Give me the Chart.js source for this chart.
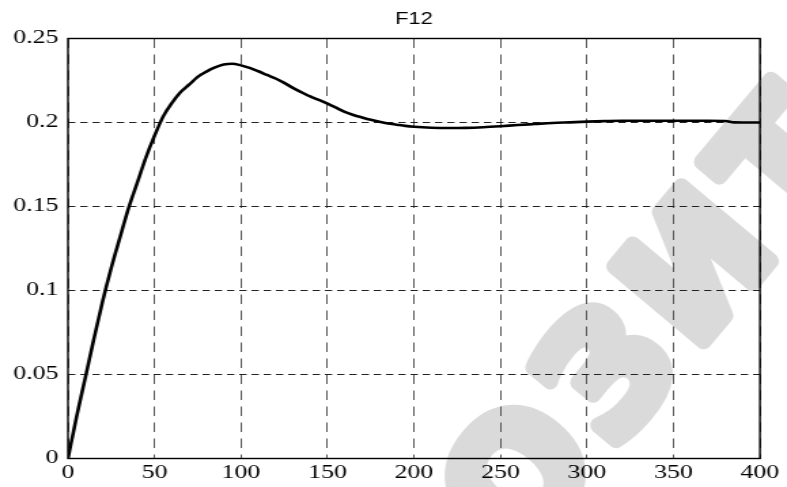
<!DOCTYPE html>
<html>
<head>
<meta charset="utf-8">
<script src="https://cdn.jsdelivr.net/npm/chart.js@4/dist/chart.umd.min.js"></script>
<style>
  html, body { margin: 0; padding: 0; background: #fff; overflow: hidden; }
  /* the source picture is stretched sideways, so the whole chart is too */
  #wrap { width: 579px; height: 487px; transform: scaleX(1.35924); transform-origin: 0 0; }
</style>
</head>
<body>
<div id="wrap"><canvas id="chart" width="579" height="487"></canvas></div>
<script>
const STRETCH = 787 / 579;

// step response
const tValues = [0, 5, 10, 15, 20, 25, 30, 35, 40, 45, 50, 55, 60, 65, 70, 75, 80, 85, 90, 95,
  100, 105, 110, 115, 120, 125, 130, 135, 140, 145, 150, 155, 160, 165, 170, 175, 180, 185, 190, 195,
  200, 210, 220, 230, 240, 250, 260, 270, 280, 290, 300, 310, 320, 330, 340, 350, 360, 370, 380, 385, 390, 400];
const f12Values = [0, 0.025, 0.048, 0.0713, 0.0935, 0.1134, 0.1314, 0.149, 0.164, 0.179, 0.192, 0.2035, 0.2115, 0.218, 0.2225, 0.2272, 0.2303, 0.2328, 0.2345, 0.2350,
  0.2340, 0.2325, 0.2305, 0.2283, 0.2262, 0.2236, 0.2206, 0.2180, 0.2155, 0.2134, 0.2112, 0.2088, 0.2063, 0.2045, 0.2030, 0.2016, 0.2004, 0.1994, 0.1987, 0.1980,
  0.1975, 0.1969, 0.1967, 0.1968, 0.1972, 0.1978, 0.1985, 0.1991, 0.1997, 0.2001, 0.2005, 0.2008, 0.2010, 0.2010, 0.2010, 0.2010, 0.2010, 0.2010, 0.2009, 0.2001, 0.2000, 0.2000];

const xTicks = [0, 50, 100, 150, 200, 250, 300, 350, 400];
const yTicks = [0, 0.05, 0.1, 0.15, 0.2, 0.25];
const yTickLabels = ['0', '0.05', '0.1', '0.15', '0.2', '0.25'];
const titleText = 'F12';
const watermarkText = 'РЕПОЗИТОРИЙ';

// grey diagonal watermark behind everything
const watermark = {
  id: 'watermark',
  beforeDraw(chart) {
    const ctx = chart.ctx;
    const ang = -50 * Math.PI / 180;
    const step = 138;
    ctx.save();
    ctx.scale(1 / STRETCH, 1);
    ctx.fillStyle = '#dadada';
    ctx.strokeStyle = '#dadada';
    ctx.lineWidth = 16;
    ctx.lineJoin = 'round';
    ctx.font = 'bold 160px "DejaVu Sans"';
    ctx.textAlign = 'center';
    ctx.textBaseline = 'middle';
    [...watermarkText].forEach((ch, i) => {
      ctx.save();
      ctx.translate(528 + (i - 3) * step * Math.cos(ang), 486 + (i - 3) * step * Math.sin(ang));
      ctx.rotate(ang);
      ctx.strokeText(ch, 0, 0);
      ctx.fillText(ch, 0, 0);
      ctx.restore();
    });
    ctx.restore();
  }
};

// full box round the plot
const frame = {
  id: 'frame',
  afterDraw(chart) {
    const { ctx, chartArea: a } = chart;
    ctx.save();
    ctx.strokeStyle = '#000';
    ctx.lineWidth = 1.4;
    ctx.strokeRect(a.left, a.top, a.right - a.left, a.bottom - a.top);
    ctx.restore();
  }
};

new Chart(document.getElementById('chart'), {
  type: 'line',
  data: {
    datasets: [{
      label: titleText,
      data: tValues.map((t, i) => ({ x: t, y: f12Values[i] })),
      borderColor: '#000',
      borderWidth: 2.6,
      pointRadius: 0,
      fill: false,
      cubicInterpolationMode: 'monotone'
    }]
  },
  options: {
    responsive: false,
    animation: false,
    devicePixelRatio: 1,
    layout: { padding: { left: 0, right: 19.9, top: 0, bottom: 0 } },
    plugins: {
      legend: { display: false },
      tooltip: { enabled: false },
      title: {
        display: true,
        text: titleText,
        fullSize: false,
        color: '#000',
        font: { family: '"Liberation Sans", Arial, sans-serif', size: 16, weight: 'normal' },
        padding: { top: 10.4, bottom: 8.9 }
      }
    },
    scales: {
      x: {
        type: 'linear',
        min: 0,
        max: 400,
        afterBuildTicks: scale => { scale.ticks = xTicks.map(v => ({ value: v })); },
        afterFit: scale => { scale.height = 28.5; },
        grid: { color: '#555', lineWidth: 1, drawTicks: false },
        border: { display: false, dash: [9.5, 6.5] },
        ticks: {
          padding: 3.5,
          color: '#000',
          maxRotation: 0,
          font: { family: '"Liberation Serif", "Times New Roman", serif', size: 19 }
        }
      },
      y: {
        type: 'linear',
        min: 0,
        max: 0.25,
        afterBuildTicks: scale => { scale.ticks = yTicks.map(v => ({ value: v })); },
        afterFit: scale => { scale.width = 50; },
        grid: { color: '#222', lineWidth: 1, drawTicks: false },
        border: { display: false, dash: [5.4, 3.6] },
        ticks: {
          padding: 7,
          color: '#000',
          font: { family: '"Liberation Serif", "Times New Roman", serif', size: 19 },
          callback: (v, i) => yTickLabels[i]
        }
      }
    }
  },
  plugins: [watermark, frame]
});
</script>
</body>
</html>
